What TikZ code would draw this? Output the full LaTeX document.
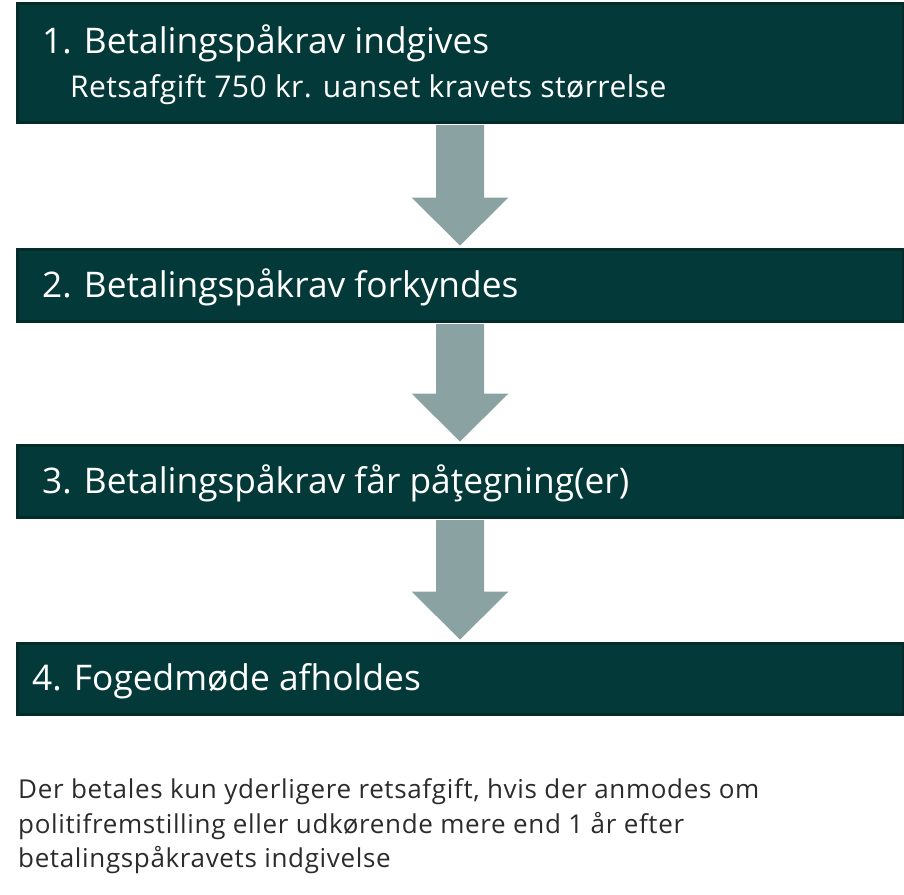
\documentclass[tikz,border=0pt]{standalone}
\usepackage{fontspec}
\setmainfont{Open Sans}
\usetikzlibrary{calc}
\definecolor{boxfill}{HTML}{033A39}
\definecolor{boxline}{HTML}{022B29}
\definecolor{arrowc}{HTML}{8AA3A2}
\definecolor{notec}{HTML}{2B2B2B}
\begin{document}
\begin{tikzpicture}[x=1pt,y=-1pt,
  stepbox/.style={rectangle, draw=boxline, fill=boxfill, line width=3pt, inner sep=0pt, minimum width=886pt, anchor=north west},
  title/.style={text=white, font=\fontsize{35.3}{40}\selectfont, anchor=base west, inner sep=0pt},
  sub/.style={text=white, font=\fontsize{30}{34}\selectfont\addfontfeatures{LetterSpace=1.5}, anchor=base west, inner sep=0pt},
  note/.style={text=notec, font=\fontsize{26}{28}\selectfont\addfontfeatures{LetterSpace=2.5}, anchor=base west, inner sep=0pt},
  flowarrow/.style={fill=arrowc}]
\useasboundingbox (0,0) rectangle (904,894);
\node[stepbox, minimum height=119pt] (b1) at (15.5,1.5) {};
\node[stepbox, minimum height=72pt] (b2) at (15.5,247.5) {};
\node[stepbox, minimum height=72pt] (b3) at (15.5,443.5) {};
\node[stepbox, minimum height=71pt] (b4) at (15.5,641.5) {};
\foreach \a/\b in {b1/b2, b2/b3, b3/b4}{
  \fill[flowarrow] ($(\a.south)+(-24,1.5)$) -- ($(\a.south)+(24,1.5)$)
    -- ($(\b.north)+(24,-50)$) -- ($(\b.north)+(48.5,-50)$)
    -- ($(\b.north)+(0,-2)$) -- ($(\b.north)+(-48.5,-50)$)
    -- ($(\b.north)+(-24,-50)$) -- cycle;
}
\node[title] (t1) at (42,53) {1. Betalingspåkrav indgives};
\node[sub] (s1) at (70,97) {Retsafgift 750 kr. uanset kravets størrelse};
\node[title] (t2) at (42,297) {2. Betalingspåkrav forkyndes};
\node[title] (t3) at (42,493) {3. Betalingspåkrav får påţegning(er)};
\node[title] (t4) at (32,690) {4. Fogedmøde afholdes};
\node[note] (n1) at (18,798) {Der betales kun yderligere retsafgift, hvis der anmodes om};
\node[note] (n2) at (18,833) {politifremstilling eller udkørende mere end 1 år efter};
\node[note] (n3) at (18,867) {betalingspåkravets indgivelse};
\end{tikzpicture}
\end{document}
